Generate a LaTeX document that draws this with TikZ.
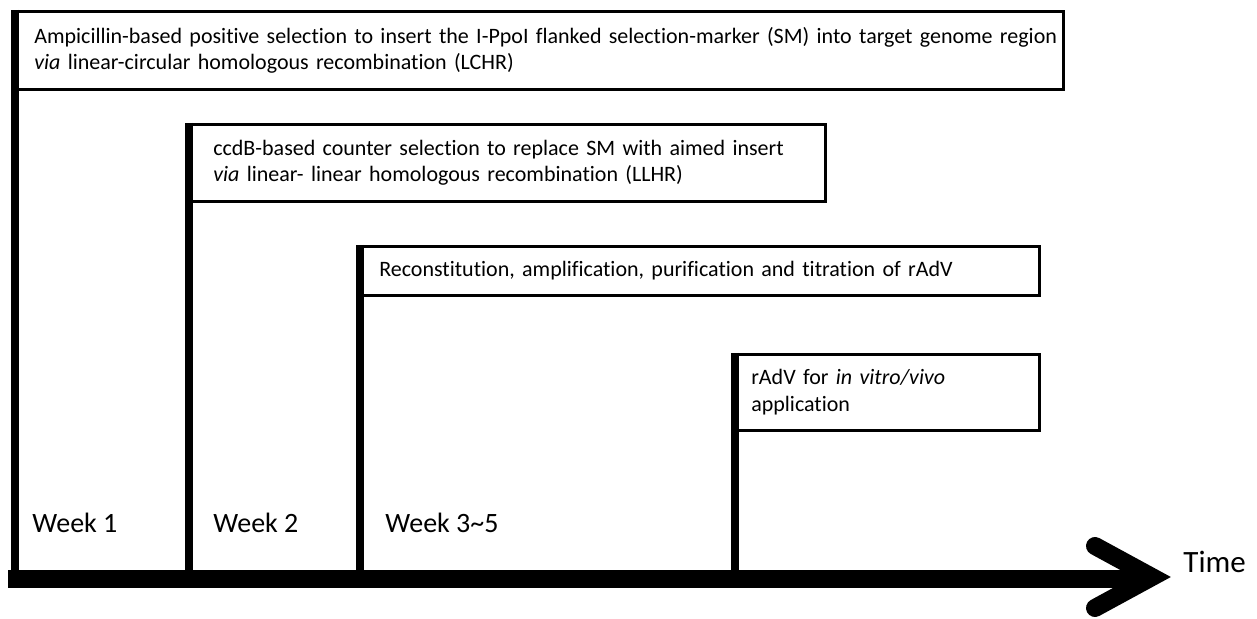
\documentclass[tikz,border=0pt]{standalone}
\usepackage{fontspec}
\setmainfont{Carlito}[Ligatures = NoCommon]

\begin{document}
\begin{tikzpicture}[x = 0.5pt, y = -0.5pt, font = \fontsize{11}{13.4}\selectfont]
	\tikzstyle{boxStyle} = [draw, line width = 1.3pt, anchor = north west, align = left, inner xsep = 0pt, inner ysep = 0pt]
	\tikzstyle{barStyle} = [line width = 4pt]
	\tikzstyle{axisStyle} = [line width = 9pt]
	\tikzstyle{headStyle} = [line width = 9pt, line cap = round, line join = miter]
	\tikzstyle{weekStyle} = [anchor = base west, inner sep = 0pt, font = \fontsize{14}{16}\selectfont]
	\useasboundingbox (0,0) rectangle (1257,619);
	% steps
	\node[boxStyle, minimum width = 523.75pt, minimum height = 39pt, text width = 505.25pt] (b1) at (14.5,10)
		{\mbox{Ampicillin-based positive selection to insert the I-PpoI flanked selection-marker (SM) into target genome region}\\ \mbox{\textit{via} linear-circular homologous recombination (LCHR)}};
	\node[boxStyle, minimum width = 317.5pt, minimum height = 38.5pt, text width = 294.5pt] (b2) at (189,123)
		{\mbox{ccdB-based counter selection to replace SM with aimed insert}\\ \mbox{\textit{via} linear- linear homologous recombination (LLHR)}};
	\node[boxStyle, minimum width = 339pt, minimum height = 24.5pt, text width = 321pt] (b3) at (360,245)
		{\mbox{Reconstitution, amplification, purification and titration of rAdV}};
	\node[boxStyle, minimum width = 151.5pt, minimum height = 38pt, text width = 136.5pt] (b4) at (735,353)
		{rAdV for \textit{in vitro/vivo}\\ application};
	% time axis
	\coordinate (t0) at (8,579);
	\coordinate (w1) at (14.5,579);
	\coordinate (w2) at (189,579);
	\coordinate (w3) at (360,579);
	\coordinate (w4) at (735,579);
	\coordinate (tEnd) at (1140,579);
	\coordinate (tip) at (1152,577);
	\draw[barStyle] (b1.north west) -- (w1);
	\draw[barStyle] (b2.north west) -- (w2);
	\draw[barStyle] (b3.north west) -- (w3);
	\draw[barStyle] (b4.north west) -- (w4);
	\draw[axisStyle] (t0) -- (tEnd);
	\draw[headStyle] ([shift = {(-57,-31)}]tip) -- (tip) -- ([shift = {(-57,31)}]tip);
	\node[weekStyle] (wk1) at (32,532) {Week 1};
	\node[weekStyle] (wk2) at (213,532) {Week 2};
	\node[weekStyle] (wk3) at (385,532) {Week 3\textasciitilde5};
	\node[anchor = base west, inner sep = 0pt, font = \fontsize{15.5}{18}\selectfont] (time) at (1183,572) {Time};
\end{tikzpicture}
\end{document}
